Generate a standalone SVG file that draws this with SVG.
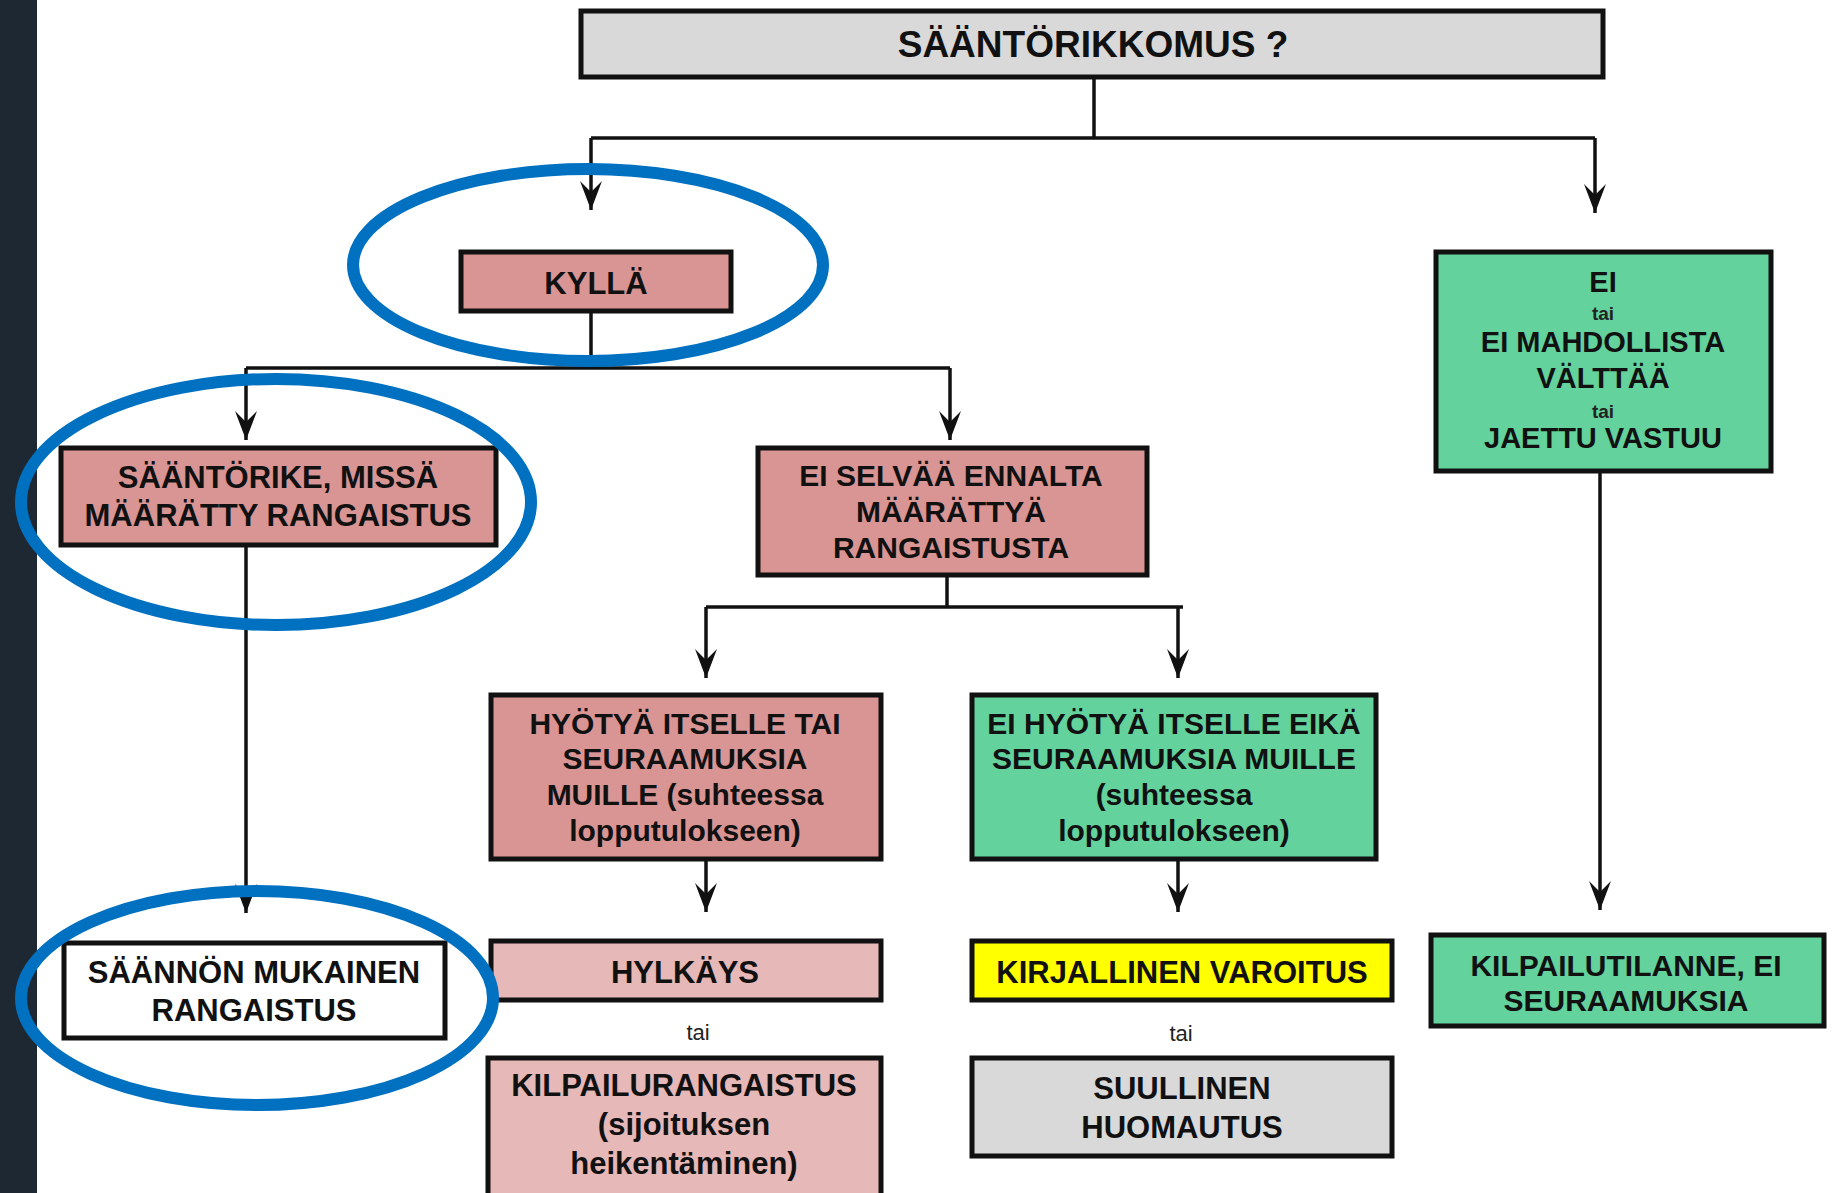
<svg xmlns="http://www.w3.org/2000/svg" width="1841" height="1193" viewBox="0 0 1841 1193">
<defs>
<style>
.box{stroke:#111;stroke-width:5}
.grey{fill:#d9d9d9}
.pink{fill:#d99594}
.lpink{fill:#e6b8b7}
.green{fill:#63d29d}
.yellow{fill:#ffff00}
.white{fill:#ffffff}
.t{font-family:"Liberation Sans",Arial,sans-serif;font-weight:bold;font-size:30px;fill:#111;text-anchor:middle}
.big{font-size:37px}
.tai{font-family:"Liberation Sans",Arial,sans-serif;font-size:22px;fill:#222;text-anchor:middle}
.con{stroke:#111;stroke-width:3.5;fill:none}
.ring{stroke:#0070c0;stroke-width:12;fill:none}
</style>
<marker id="arr" markerUnits="userSpaceOnUse" markerWidth="32" markerHeight="26" viewBox="-30 -12 32 24" refX="0" refY="0" orient="auto">
<path d="M0,0 L-29,-11 L-18,0 L-29,11 Z" fill="#111"/>
</marker>
</defs>
<rect width="1841" height="1193" fill="#ffffff"/>
<rect x="0" y="0" width="37" height="1193" fill="#1e2833"/>

<g id="connectors">
<path class="con" d="M1094,79 V138"/>
<path class="con" d="M591,138 H1595"/>
<path class="con" d="M591,138 V210" marker-end="url(#arr)"/>
<path class="con" d="M1595,138 V213" marker-end="url(#arr)"/>
<path class="con" d="M591,313 V368"/>
<path class="con" d="M246,368 H950"/>
<path class="con" d="M246,368 V440" marker-end="url(#arr)"/>
<path class="con" d="M950,368 V440" marker-end="url(#arr)"/>
<path class="con" d="M246,547 V913" marker-end="url(#arr)"/>
<path class="con" d="M947,577 V607"/>
<path class="con" d="M706,607 H1183"/>
<path class="con" d="M706,607 V678" marker-end="url(#arr)"/>
<path class="con" d="M1178,607 V678" marker-end="url(#arr)"/>
<path class="con" d="M706,861 V912" marker-end="url(#arr)"/>
<path class="con" d="M1178,861 V912" marker-end="url(#arr)"/>
<path class="con" d="M1600,473 V910" marker-end="url(#arr)"/>
</g>

<g id="n-top">
<rect class="box grey" x="581" y="11" width="1022" height="66"/>
<text class="t big" x="1093" y="57">SÄÄNTÖRIKKOMUS ?</text>
</g>

<g id="n-kylla">
<rect class="box pink" x="461" y="252" width="270" height="59"/>
<text class="t" x="596" y="294" style="font-size:31px">KYLLÄ</text>
</g>

<g id="n-saantorike">
<rect class="box pink" x="61" y="448" width="435" height="97"/>
<text class="t" x="278" y="488" style="font-size:31px">SÄÄNTÖRIKE, MISSÄ</text>
<text class="t" x="278" y="526" style="font-size:31px">MÄÄRÄTTY RANGAISTUS</text>
</g>

<g id="n-eiselvaa">
<rect class="box pink" x="758" y="448" width="389" height="127"/>
<text class="t" x="951" y="486">EI SELVÄÄ ENNALTA</text>
<text class="t" x="951" y="522">MÄÄRÄTTYÄ</text>
<text class="t" x="951" y="558">RANGAISTUSTA</text>
</g>

<g id="n-hyotya">
<rect class="box pink" x="491" y="695" width="390" height="164"/>
<text class="t" x="685" y="734">HYÖTYÄ ITSELLE TAI</text>
<text class="t" x="685" y="769">SEURAAMUKSIA</text>
<text class="t" x="685" y="805">MUILLE (suhteessa</text>
<text class="t" x="685" y="841">lopputulokseen)</text>
</g>

<g id="n-eihyotya">
<rect class="box green" x="972" y="695" width="404" height="164"/>
<text class="t" x="1174" y="734">EI HYÖTYÄ ITSELLE EIKÄ</text>
<text class="t" x="1174" y="769">SEURAAMUKSIA MUILLE</text>
<text class="t" x="1174" y="805">(suhteessa</text>
<text class="t" x="1174" y="841">lopputulokseen)</text>
</g>

<g id="n-ei">
<rect class="box green" x="1436" y="252" width="335" height="219"/>
<text class="t" x="1603" y="292" style="font-size:29px">EI</text>
<text class="tai" x="1603" y="320" style="font-weight:bold;font-size:19px">tai</text>
<text class="t" x="1603" y="352" style="font-size:29px">EI MAHDOLLISTA</text>
<text class="t" x="1603" y="388" style="font-size:29px">VÄLTTÄÄ</text>
<text class="tai" x="1603" y="418" style="font-weight:bold;font-size:19px">tai</text>
<text class="t" x="1603" y="448" style="font-size:29px">JAETTU VASTUU</text>
</g>

<g id="n-saannon">
<rect class="box white" x="64" y="943" width="381" height="95"/>
<text class="t" x="254" y="983" style="font-size:31px">SÄÄNNÖN MUKAINEN</text>
<text class="t" x="254" y="1021" style="font-size:31px">RANGAISTUS</text>
</g>

<g id="n-hylkays">
<rect class="box lpink" x="491" y="941" width="390" height="59"/>
<text class="t" x="685" y="983" style="font-size:31px">HYLKÄYS</text>
</g>

<g id="n-tai1">
<text class="tai" x="698" y="1040">tai</text>
</g>

<g id="n-kilpailurangaistus">
<rect class="box lpink" x="488" y="1058" width="393" height="150"/>
<text class="t" x="684" y="1096" style="font-size:31px">KILPAILURANGAISTUS</text>
<text class="t" x="684" y="1135" style="font-size:31px">(sijoituksen</text>
<text class="t" x="684" y="1174" style="font-size:31px">heikentäminen)</text>
</g>

<g id="n-kirjallinen">
<rect class="box yellow" x="972" y="941" width="420" height="59"/>
<text class="t" x="1182" y="983" style="font-size:31px">KIRJALLINEN VAROITUS</text>
</g>

<g id="n-tai2">
<text class="tai" x="1181" y="1041">tai</text>
</g>

<g id="n-suullinen">
<rect class="box grey" x="972" y="1058" width="420" height="98"/>
<text class="t" x="1182" y="1099" style="font-size:31px">SUULLINEN</text>
<text class="t" x="1182" y="1138" style="font-size:31px">HUOMAUTUS</text>
</g>

<g id="n-kilpailutilanne">
<rect class="box green" x="1431" y="935" width="393" height="91"/>
<text class="t" x="1626" y="976">KILPAILUTILANNE, EI</text>
<text class="t" x="1626" y="1011">SEURAAMUKSIA</text>
</g>

<g id="highlights">
<ellipse class="ring" cx="588" cy="265" rx="235" ry="96"/>
<ellipse class="ring" cx="276" cy="502" rx="255" ry="123"/>
<ellipse class="ring" cx="257" cy="998" rx="236" ry="107"/>
</g>
</svg>
